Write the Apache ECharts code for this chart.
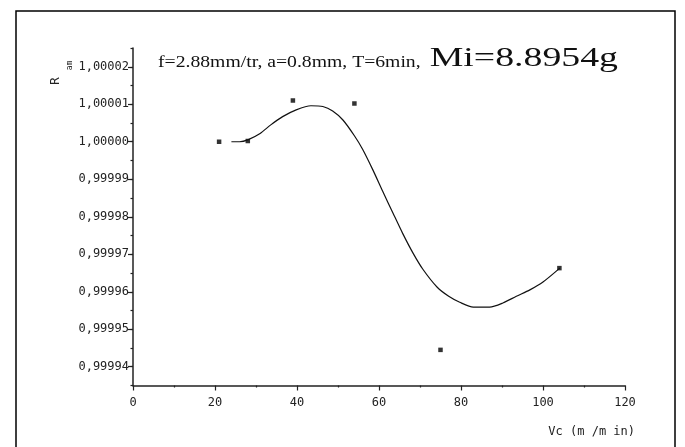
<!DOCTYPE html>
<html><head><meta charset="utf-8">
<script src="https://cdn.jsdelivr.net/npm/echarts@6/dist/echarts.min.js"></script>
<style>html,body{margin:0;padding:0;background:#fff}#c{width:685px;height:447px}</style>
</head><body><div id="c"></div>
<script>
// measured points
const pointX = [21, 28, 39, 54, 75, 104];
const pointY = [1.0000000, 1.0000002, 1.0000110, 1.0000102, 0.9999445, 0.9999663];
// fitted curve
const curveX = [24, 26, 28, 31, 33.6, 36.5, 39.8, 43.4, 46.3, 48.7, 51.2, 54, 56, 58.5, 60.9, 63.4, 65.8, 68.3, 70.7, 74.2, 77, 79.7, 83, 87, 90.2, 93.5, 96.8, 100, 104.1];
const curveY = [1.0000000, 1.0000000, 1.0000005, 1.0000022, 1.0000045, 1.0000067, 1.0000085, 1.0000096, 1.0000094, 1.0000082, 1.0000058, 1.0000016, 0.9999980, 0.9999925, 0.9999868, 0.9999810, 0.9999755, 0.9999703, 0.9999660, 0.9999612, 0.9999588, 0.9999572, 0.9999559, 0.9999559, 0.9999570, 0.9999588, 0.9999605, 0.9999626, 0.9999663];
// tick labels
const yTickValues = [0.99994, 0.99995, 0.99996, 0.99997, 0.99998, 0.99999, 1.00000, 1.00001, 1.00002];
const xTickValues = [0, 20, 40, 60, 80, 100, 120];
const titleSmall = 'f=2.88mm/tr, a=0.8mm, T=6min,';
const titleLarge = 'Mi=8.8954g';
const xName = 'Vc (m /m in)';
const yName = 'R';
const yNameSub = 'am';

const chart = echarts.init(document.getElementById('c'), null, {renderer: 'canvas'});
const lab = {fontFamily: 'DejaVu Sans Mono', fontSize: 12, color: '#222'};
const yMin = 0.999935, yMax = 1.000025;
chart.setOption({
  animation: false,
  backgroundColor: '#fff',
  grid: {left: 133, right: 60, top: 48, bottom: 61.5, containLabel: false},
  xAxis: {
    type: 'value', min: 0, max: 120, interval: 20,
    axisLine: {show: true, onZero: false, lineStyle: {color: '#222', width: 1.5}},
    axisTick: {show: true, length: 5, lineStyle: {color: '#222', width: 1.2}, customValues: xTickValues},
    minorTick: {show: true, splitNumber: 2, length: 2, lineStyle: {color: '#222', width: 1.2}},
    axisLabel: Object.assign({margin: 11, customValues: xTickValues}, lab),
    splitLine: {show: false}, minorSplitLine: {show: false}
  },
  yAxis: [{
    type: 'value', min: yMin, max: yMax, interval: 0.000005, position: 'left',
    axisLine: {show: true, onZero: false, lineStyle: {color: '#222', width: 1.5}},
    axisTick: {show: true, length: 2.5, lineStyle: {color: '#222', width: 1.2}},
    axisLabel: {show: false},
    splitLine: {show: false}
  }, {
    type: 'value', min: yMin, max: yMax, position: 'left',
    axisLine: {show: false},
    axisTick: {show: true, length: 5, lineStyle: {color: '#222', width: 1.2}, customValues: yTickValues},
    axisLabel: Object.assign({margin: 4, customValues: yTickValues,
      formatter: v => Number(v).toFixed(5).replace('.', ',')}, lab),
    splitLine: {show: false}
  }],
  series: [{
    type: 'line', yAxisIndex: 0, smooth: 0.25, symbol: 'none',
    lineStyle: {color: '#111', width: 1.2},
    data: curveX.map((x, i) => [x, curveY[i]])
  }, {
    type: 'scatter', yAxisIndex: 0, symbol: 'rect', symbolSize: 4.5,
    itemStyle: {color: '#000'},
    data: pointX.map((x, i) => [x, pointY[i]])
  }],
  graphic: [
    {type: 'rect', shape: {x: 16, y: 11, width: 659, height: 460}, style: {fill: 'none', stroke: '#000', lineWidth: 1.5}, silent: true},
    {type: 'text', x: 158, y: 71, scaleX: 1.23, style: {text: titleSmall, font: '16px "Liberation Serif"', fill: '#111', textAlign: 'left', textVerticalAlign: 'bottom'}},
    {type: 'text', x: 618, y: 72, scaleX: 1.4, style: {text: titleLarge, font: '27px "Liberation Serif"', fill: '#111', textAlign: 'right', textVerticalAlign: 'bottom'}},
    {type: 'text', x: 635, y: 432, style: {text: xName, font: '12px "DejaVu Sans Mono"', fill: '#222', textAlign: 'right', textVerticalAlign: 'middle'}},
    {type: 'text', x: 56, y: 81, rotation: Math.PI / 2, style: {text: yName, font: '13px "DejaVu Sans Mono"', fill: '#222', textAlign: 'center', textVerticalAlign: 'middle'}},
    {type: 'text', x: 69.5, y: 65.5, rotation: Math.PI / 2, style: {text: yNameSub, font: '8px "DejaVu Sans Mono"', fill: '#222', textAlign: 'center', textVerticalAlign: 'middle'}}
  ]
});
</script></body></html>
